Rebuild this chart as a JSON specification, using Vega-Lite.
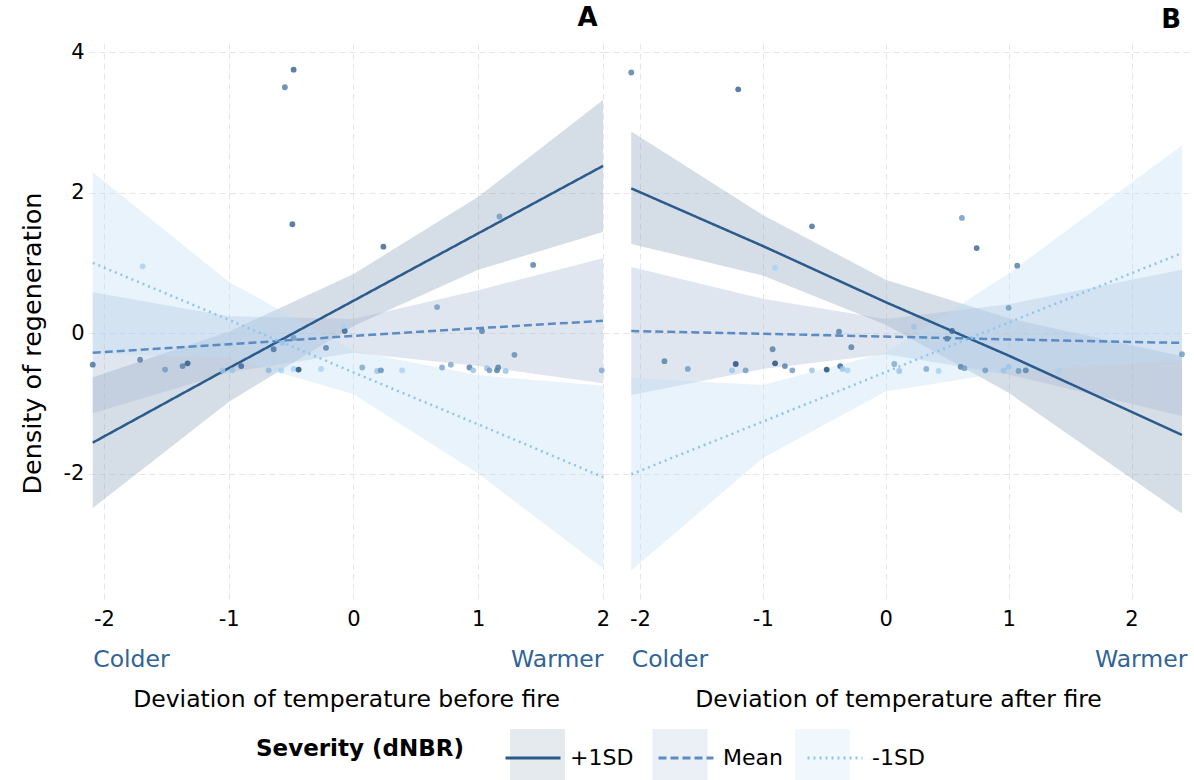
{
  "$schema": "https://vega.github.io/schema/vega-lite/v6.json",
  "padding": {"left": 20, "top": 5, "right": 0, "bottom": 0},
  "spacing": 0,
  "bounds": "flush",
  "datasets": {
    "fitA": [
      {"x": -2.09, "fit": -1.56, "lo": -2.49, "hi": -0.63, "lvl": "+1SD"},
      {"x": -1.0, "fit": -0.5, "lo": -0.98, "hi": 0.02, "lvl": "+1SD"},
      {"x": 0.0, "fit": 0.46, "lo": 0.1, "hi": 0.84, "lvl": "+1SD"},
      {"x": 1.0, "fit": 1.42, "lo": 0.9, "hi": 1.94, "lvl": "+1SD"},
      {"x": 2.0, "fit": 2.38, "lo": 1.44, "hi": 3.32, "lvl": "+1SD"},
      {"x": -2.09, "fit": -0.28, "lo": -1.14, "hi": 0.58, "lvl": "Mean"},
      {"x": -1.0, "fit": -0.16, "lo": -0.56, "hi": 0.24, "lvl": "Mean"},
      {"x": 0.0, "fit": -0.04, "lo": -0.28, "hi": 0.2, "lvl": "Mean"},
      {"x": 1.0, "fit": 0.07, "lo": -0.47, "hi": 0.61, "lvl": "Mean"},
      {"x": 2.0, "fit": 0.175, "lo": -0.715, "hi": 1.065, "lvl": "Mean"},
      {"x": -2.09, "fit": 1.0, "lo": -0.29, "hi": 2.29, "lvl": "-1SD"},
      {"x": -1.0, "fit": 0.19, "lo": -0.35, "hi": 0.73, "lvl": "-1SD"},
      {"x": 0.0, "fit": -0.56, "lo": -0.87, "hi": -0.25, "lvl": "-1SD"},
      {"x": 1.0, "fit": -1.3, "lo": -2.0, "hi": -0.6, "lvl": "-1SD"},
      {"x": 2.0, "fit": -2.05, "lo": -3.35, "hi": -0.75, "lvl": "-1SD"}
    ],
    "fitB": [
      {"x": -2.07, "fit": 2.06, "lo": 1.27, "hi": 2.87, "lvl": "+1SD"},
      {"x": -1.0, "fit": 1.24, "lo": 0.82, "hi": 1.68, "lvl": "+1SD"},
      {"x": 0.0, "fit": 0.44, "lo": 0.12, "hi": 0.76, "lvl": "+1SD"},
      {"x": 1.0, "fit": -0.32, "lo": -0.85, "hi": 0.21, "lvl": "+1SD"},
      {"x": 2.41, "fit": -1.45, "lo": -2.57, "hi": -0.33, "lvl": "+1SD"},
      {"x": -2.07, "fit": 0.03, "lo": -0.88, "hi": 0.94, "lvl": "Mean"},
      {"x": -1.0, "fit": -0.01, "lo": -0.51, "hi": 0.49, "lvl": "Mean"},
      {"x": 0.0, "fit": -0.05, "lo": -0.3, "hi": 0.2, "lvl": "Mean"},
      {"x": 1.0, "fit": -0.09, "lo": -0.59, "hi": 0.41, "lvl": "Mean"},
      {"x": 2.41, "fit": -0.14, "lo": -1.18, "hi": 0.9, "lvl": "Mean"},
      {"x": -2.07, "fit": -2.01, "lo": -3.38, "hi": -0.64, "lvl": "-1SD"},
      {"x": -1.0, "fit": -1.26, "lo": -1.78, "hi": -0.74, "lvl": "-1SD"},
      {"x": 0.0, "fit": -0.555, "lo": -0.83, "hi": -0.28, "lvl": "-1SD"},
      {"x": 1.0, "fit": 0.15, "lo": -0.55, "hi": 0.85, "lvl": "-1SD"},
      {"x": 2.41, "fit": 1.14, "lo": -0.39, "hi": 2.67, "lvl": "-1SD"}
    ],
    "ptsA": [
      {"x": -0.48, "y": 3.75, "sev": 0.8}, {"x": -0.55, "y": 3.5, "sev": 0.6},
      {"x": -0.49, "y": 1.55, "sev": 0.8}, {"x": 0.24, "y": 1.23, "sev": 0.8},
      {"x": -1.69, "y": 0.95, "sev": 0.0}, {"x": 1.17, "y": 1.66, "sev": 0.4},
      {"x": 1.44, "y": 0.97, "sev": 0.6}, {"x": 0.67, "y": 0.37, "sev": 0.4},
      {"x": -0.07, "y": 0.03, "sev": 0.8}, {"x": -0.08, "y": 0.1, "sev": 0.0},
      {"x": 1.03, "y": 0.03, "sev": 0.6}, {"x": -0.48, "y": -0.07, "sev": 0.4},
      {"x": -0.64, "y": -0.23, "sev": 0.7}, {"x": -0.57, "y": -0.14, "sev": 0.1},
      {"x": -0.22, "y": -0.21, "sev": 0.6}, {"x": 1.29, "y": -0.31, "sev": 0.5},
      {"x": -2.09, "y": -0.45, "sev": 0.7}, {"x": -1.71, "y": -0.38, "sev": 0.6},
      {"x": -1.51, "y": -0.52, "sev": 0.4}, {"x": -1.37, "y": -0.47, "sev": 0.6},
      {"x": -1.33, "y": -0.43, "sev": 0.9}, {"x": -1.05, "y": -0.53, "sev": 0.1},
      {"x": -0.97, "y": -0.53, "sev": 0.1}, {"x": -0.9, "y": -0.47, "sev": 0.8},
      {"x": -0.68, "y": -0.53, "sev": 0.2}, {"x": -0.58, "y": -0.53, "sev": 0.0},
      {"x": -0.48, "y": -0.51, "sev": 0.0}, {"x": -0.44, "y": -0.52, "sev": 1.0},
      {"x": -0.26, "y": -0.51, "sev": 0.0}, {"x": 0.07, "y": -0.49, "sev": 0.3},
      {"x": 0.19, "y": -0.54, "sev": 0.1}, {"x": 0.22, "y": -0.53, "sev": 0.5},
      {"x": 0.39, "y": -0.53, "sev": 0.0}, {"x": 0.71, "y": -0.49, "sev": 0.3},
      {"x": 0.78, "y": -0.45, "sev": 0.3}, {"x": 0.93, "y": -0.49, "sev": 0.6},
      {"x": 0.96, "y": -0.53, "sev": 0.1}, {"x": 1.07, "y": -0.5, "sev": 0.1},
      {"x": 1.09, "y": -0.53, "sev": 0.4}, {"x": 1.15, "y": -0.53, "sev": 0.6},
      {"x": 1.16, "y": -0.49, "sev": 0.6}, {"x": 1.22, "y": -0.54, "sev": 0.1},
      {"x": 1.99, "y": -0.53, "sev": 0.3}
    ],
    "ptsB": [
      {"x": -2.07, "y": 3.71, "sev": 0.6}, {"x": -1.2, "y": 3.47, "sev": 0.8},
      {"x": -0.6, "y": 1.52, "sev": 0.7}, {"x": 0.62, "y": 1.64, "sev": 0.4},
      {"x": 0.74, "y": 1.21, "sev": 0.8}, {"x": 1.07, "y": 0.96, "sev": 0.6},
      {"x": -0.9, "y": 0.93, "sev": 0.0}, {"x": 1.0, "y": 0.36, "sev": 0.4},
      {"x": -0.38, "y": 0.02, "sev": 0.6}, {"x": 0.23, "y": 0.09, "sev": 0.1},
      {"x": 0.54, "y": 0.03, "sev": 0.8}, {"x": 0.5, "y": -0.08, "sev": 0.6},
      {"x": -0.92, "y": -0.23, "sev": 0.6}, {"x": -0.28, "y": -0.2, "sev": 0.6},
      {"x": -1.8, "y": -0.4, "sev": 0.6}, {"x": -1.61, "y": -0.51, "sev": 0.4},
      {"x": -1.22, "y": -0.44, "sev": 1.0}, {"x": -1.25, "y": -0.53, "sev": 0.1},
      {"x": -1.14, "y": -0.53, "sev": 0.4}, {"x": -0.9, "y": -0.43, "sev": 1.0},
      {"x": -0.82, "y": -0.47, "sev": 0.6}, {"x": -0.76, "y": -0.53, "sev": 0.4},
      {"x": -0.6, "y": -0.53, "sev": 0.1}, {"x": -0.48, "y": -0.52, "sev": 1.0},
      {"x": -0.37, "y": -0.47, "sev": 0.8}, {"x": -0.35, "y": -0.51, "sev": 0.1},
      {"x": -0.31, "y": -0.53, "sev": 0.0}, {"x": 0.07, "y": -0.44, "sev": 0.3},
      {"x": 0.11, "y": -0.54, "sev": 0.1}, {"x": 0.33, "y": -0.51, "sev": 0.3},
      {"x": 0.43, "y": -0.54, "sev": 0.0}, {"x": 0.61, "y": -0.48, "sev": 0.6},
      {"x": 0.64, "y": -0.5, "sev": 0.4}, {"x": 0.81, "y": -0.53, "sev": 0.4},
      {"x": 0.96, "y": -0.53, "sev": 0.1}, {"x": 1.0, "y": -0.48, "sev": 0.1},
      {"x": 1.08, "y": -0.54, "sev": 0.4}, {"x": 1.14, "y": -0.53, "sev": 0.6},
      {"x": 1.41, "y": -0.54, "sev": 0.0}, {"x": 2.41, "y": -0.3, "sev": 0.4}
    ]
  },
  "hconcat": [
    {
      "width": 514,
      "height": 557,
      "title": {"text": "A", "anchor": "end", "fontSize": 26, "fontWeight": "bold", "dx": -12, "offset": 10, "color": "#000000"},
      "layer": [
        {
          "data": {"name": "fitA"},
          "mark": {"type": "area", "fillOpacity": 0.35},
          "encoding": {
            "x": {"field": "x", "type": "quantitative", "scale": {"domain": [-2.12, 2.0], "nice": false, "zero": false},
              "axis": {"orient": "bottom", "values": [-2, -1, 0, 1, 2], "labelExpr": "'' + datum.value", "labelFontSize": 21, "labelPadding": 8, "labelFlush": false, "ticks": false, "domain": false, "grid": true, "title": "Deviation of temperature before fire", "titleFontSize": 23.5, "titleFontWeight": "normal", "titlePadding": 58}},
            "y": {"field": "lo", "type": "quantitative", "scale": {"domain": [-3.8, 4.13], "nice": false, "zero": false},
              "axis": {"orient": "left", "values": [-2, 0, 2, 4], "labelExpr": "'' + datum.value", "labelFontSize": 21, "labelPadding": 5, "ticks": false, "domain": false, "grid": true, "title": "Density of regeneration", "titleFontSize": 25.5, "titleFontWeight": "normal", "titlePadding": 18, "titleY": 300}},
            "y2": {"field": "hi"},
            "fill": {"field": "lvl", "type": "nominal", "title": null, "scale": {"domain": ["-1SD", "Mean", "+1SD"], "range": ["#bdddf6", "#a6b7d4", "#879eb8"]},
              "legend": {"orient": "none", "legendX": 421, "legendY": 686, "values": ["+1SD", "Mean", "-1SD"], "direction": "horizontal", "labelExpr": "''", "labelOffset": 0, "columnPadding": 87.5, "symbolType": "square", "symbolSize": 3025, "symbolOpacity": 0.22, "symbolStrokeWidth": 0}}
          }
        },
        {
          "data": {"name": "fitA"},
          "mark": {"type": "line", "strokeWidth": 2.5},
          "encoding": {
            "x": {"field": "x", "type": "quantitative", "axis": null},
            "y": {"field": "fit", "type": "quantitative", "axis": null},
            "stroke": {"field": "lvl", "type": "nominal", "title": "Severity (dNBR)", "scale": {"domain": ["+1SD", "Mean", "-1SD"], "range": ["#2a5b8c", "#5a8bc3", "#8ec5ef"]},
              "legend": {"orient": "none", "legendX": 167, "legendY": 686, "direction": "horizontal", "titleOrient": "left", "titleAnchor": "middle", "titleBaseline": "middle", "titleLimit": 400, "titlePadding": 40, "symbolType": "stroke", "symbolSize": 3025, "symbolStrokeWidth": 3}},
            "strokeDash": {"field": "lvl", "type": "nominal", "title": "Severity (dNBR)", "scale": {"domain": ["+1SD", "Mean", "-1SD"], "range": [[1, 0], [8, 4], [2, 4]]},
              "legend": {"orient": "none", "legendX": 167, "legendY": 686, "direction": "horizontal", "titleOrient": "left", "titleAnchor": "middle", "titleBaseline": "middle", "titleLimit": 400, "titlePadding": 40, "symbolType": "stroke", "symbolSize": 3025, "symbolStrokeWidth": 3}}
          }
        },
        {
          "data": {"name": "ptsA"},
          "mark": {"type": "point", "filled": true, "size": 34, "opacity": 0.85},
          "encoding": {
            "x": {"field": "x", "type": "quantitative",
              "axis": {"orient": "bottom", "values": [-2.09, 2.0], "labelExpr": "datum.value < 0 ? 'Colder' : 'Warmer'", "labelAlign": {"condition": {"test": "datum.value < 0", "value": "left"}, "value": "right"}, "labelColor": "#2f6496", "labelFontSize": 23.5, "labelPadding": 47, "labelFlush": false, "labelOverlap": false, "ticks": false, "domain": false, "grid": false, "title": null}},
            "y": {"field": "y", "type": "quantitative", "axis": null},
            "color": {"field": "sev", "type": "quantitative", "scale": {"domain": [0, 1], "range": ["#a9d2f3", "#23517f"]}, "legend": null}
          }
        }
      ],
      "resolve": {"axis": {"x": "independent", "y": "independent"}}
    },
    {
      "width": 590,
      "height": 557,
      "title": {"text": "B", "anchor": "end", "fontSize": 26, "fontWeight": "bold", "dx": -12, "offset": 10, "color": "#000000"},
      "layer": [
        {
          "data": {"name": "fitB"},
          "mark": {"type": "area", "fillOpacity": 0.35},
          "encoding": {
            "x": {"field": "x", "type": "quantitative", "scale": {"domain": [-2.3, 2.5], "nice": false, "zero": false},
              "axis": {"orient": "bottom", "values": [-2, -1, 0, 1, 2], "labelExpr": "'' + datum.value", "labelFontSize": 21, "labelPadding": 8, "labelFlush": false, "ticks": false, "domain": false, "grid": true, "title": "Deviation of temperature after fire", "titleFontSize": 23.5, "titleFontWeight": "normal", "titlePadding": 58}},
            "y": {"field": "lo", "type": "quantitative", "scale": {"domain": [-3.8, 4.13], "nice": false, "zero": false},
              "axis": {"orient": "left", "values": [-2, 0, 2, 4], "labels": false, "ticks": false, "domain": false, "grid": true, "title": null}},
            "y2": {"field": "hi"},
            "fill": {"field": "lvl", "type": "nominal", "title": null, "scale": {"domain": ["-1SD", "Mean", "+1SD"], "range": ["#bdddf6", "#a6b7d4", "#879eb8"]},
              "legend": {"orient": "none", "legendX": 421, "legendY": 686, "values": ["+1SD", "Mean", "-1SD"], "direction": "horizontal", "labelExpr": "''", "labelOffset": 0, "columnPadding": 87.5, "symbolType": "square", "symbolSize": 3025, "symbolOpacity": 0.22, "symbolStrokeWidth": 0}}
          }
        },
        {
          "data": {"name": "fitB"},
          "mark": {"type": "line", "strokeWidth": 2.5},
          "encoding": {
            "x": {"field": "x", "type": "quantitative", "axis": null},
            "y": {"field": "fit", "type": "quantitative", "axis": null},
            "stroke": {"field": "lvl", "type": "nominal", "title": "Severity (dNBR)", "scale": {"domain": ["+1SD", "Mean", "-1SD"], "range": ["#2a5b8c", "#5a8bc3", "#8ec5ef"]},
              "legend": {"orient": "none", "legendX": 167, "legendY": 686, "direction": "horizontal", "titleOrient": "left", "titleAnchor": "middle", "titleBaseline": "middle", "titleLimit": 400, "titlePadding": 40, "symbolType": "stroke", "symbolSize": 3025, "symbolStrokeWidth": 3}},
            "strokeDash": {"field": "lvl", "type": "nominal", "title": "Severity (dNBR)", "scale": {"domain": ["+1SD", "Mean", "-1SD"], "range": [[1, 0], [8, 4], [2, 4]]},
              "legend": {"orient": "none", "legendX": 167, "legendY": 686, "direction": "horizontal", "titleOrient": "left", "titleAnchor": "middle", "titleBaseline": "middle", "titleLimit": 400, "titlePadding": 40, "symbolType": "stroke", "symbolSize": 3025, "symbolStrokeWidth": 3}}
          }
        },
        {
          "data": {"name": "ptsB"},
          "mark": {"type": "point", "filled": true, "size": 34, "opacity": 0.85},
          "encoding": {
            "x": {"field": "x", "type": "quantitative",
              "axis": {"orient": "bottom", "values": [-2.07, 2.45], "labelExpr": "datum.value < 0 ? 'Colder' : 'Warmer'", "labelAlign": {"condition": {"test": "datum.value < 0", "value": "left"}, "value": "right"}, "labelColor": "#2f6496", "labelFontSize": 23.5, "labelPadding": 47, "labelFlush": false, "labelOverlap": false, "ticks": false, "domain": false, "grid": false, "title": null}},
            "y": {"field": "y", "type": "quantitative", "axis": null},
            "color": {"field": "sev", "type": "quantitative", "scale": {"domain": [0, 1], "range": ["#a9d2f3", "#23517f"]}, "legend": null}
          }
        }
      ],
      "resolve": {"axis": {"x": "independent", "y": "independent"}}
    }
  ],
  "resolve": {"scale": {"x": "independent", "y": "independent", "stroke": "shared", "strokeDash": "shared", "fill": "shared", "color": "shared"}, "legend": {"stroke": "shared", "strokeDash": "shared", "fill": "shared"}},
  "config": {
    "font": "DejaVu Sans",
    "view": {"stroke": null},
    "axis": {"gridColor": "#e6e6e6", "gridDash": [6, 4], "gridWidth": 1, "labelColor": "#000000", "titleColor": "#000000", "labelFont": "DejaVu Sans", "titleFont": "DejaVu Sans"},
    "legend": {"titleFontSize": 23, "titleFontWeight": "bold", "titleColor": "#000000", "labelFontSize": 22, "labelColor": "#000000", "columnPadding": 18, "labelOffset": 8}
  }
}
